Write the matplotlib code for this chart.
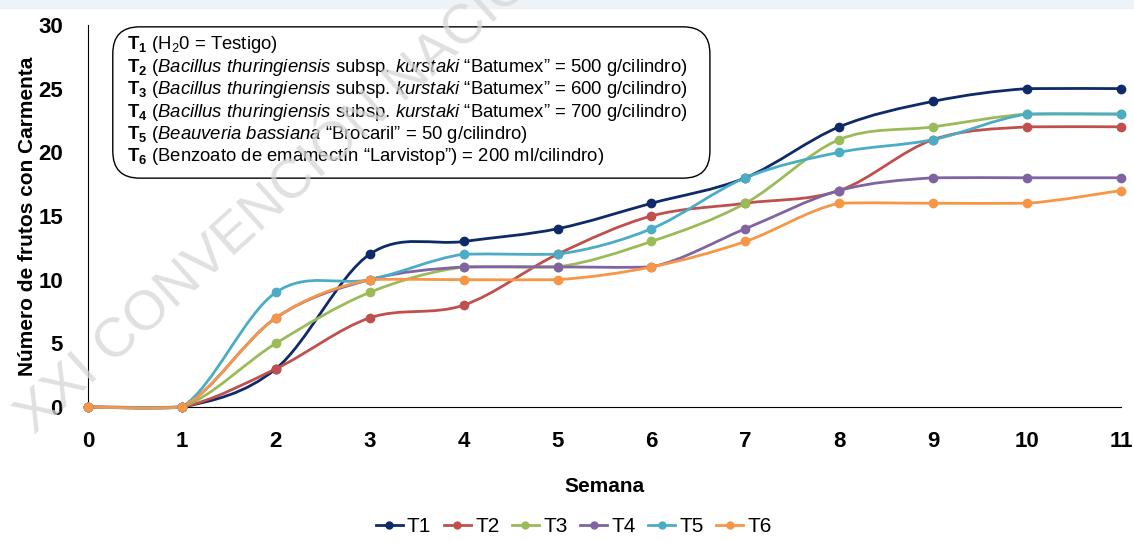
import numpy as np
import matplotlib.pyplot as plt
from matplotlib.path import Path
from matplotlib.patches import PathPatch, FancyBboxPatch
from matplotlib.lines import Line2D

plt.rcParams['font.family'] = ['Liberation Sans', 'DejaVu Sans']
plt.rcParams['mathtext.fontset'] = 'custom'
plt.rcParams['mathtext.rm'] = 'Liberation Sans'
plt.rcParams['mathtext.it'] = 'Liberation Sans:italic'
plt.rcParams['mathtext.bf'] = 'Liberation Sans:bold'

# semanas y datos
semanas = [0, 1, 2, 3, 4, 5, 6, 7, 8, 9, 10, 11]
t1 = [0, 0, 3, 12, 13, 14, 16, 18, 22, 24, 25, 25]
t2 = [0, 0, 3, 7, 8, 12, 15, 16, 17, 21, 22, 22]
t3 = [0, 0, 5, 9, 11, 11, 13, 16, 21, 22, 23, 23]
t4 = [0, 0, 7, 10, 11, 11, 11, 14, 17, 18, 18, 18]
t5 = [0, 0, 9, 10, 12, 12, 14, 18, 20, 21, 23, 23]
t6 = [0, 0, 7, 10, 10, 10, 11, 13, 16, 16, 16, 17]
nombres = ['T1', 'T2', 'T3', 'T4', 'T5', 'T6']
colores = ['#0e2a68', '#c0504d', '#9bbb59', '#8064a2', '#4bacc6', '#f79646']

tratamientos = [
    r"$\mathbf{T_1}$ (H$_2$0 = Testigo)",
    r"$\mathbf{T_2}$ ($\mathit{Bacillus\ thuringiensis}$ subsp. $\mathit{kurstaki}$ “Batumex” = 500 g/cilindro)",
    r"$\mathbf{T_3}$ ($\mathit{Bacillus\ thuringiensis}$ subsp. $\mathit{kurstaki}$ “Batumex” = 600 g/cilindro)",
    r"$\mathbf{T_4}$ ($\mathit{Bacillus\ thuringiensis}$ subsp. $\mathit{kurstaki}$ “Batumex” = 700 g/cilindro)",
    r"$\mathbf{T_5}$ ($\mathit{Beauveria\ bassiana}$ “Brocaril” = 50 g/cilindro)",
    r"$\mathbf{T_6}$ (Benzoato de emamectín “Larvistop”) = 200 ml/cilindro)",
]


def curva_suave(x, y):
    # linea suavizada tipo Excel (Catmull-Rom como curvas Bezier)
    p = np.column_stack([x, y]).astype(float)
    ext = np.vstack([p[0], p, p[-1]])
    verts = [p[0]]
    codes = [Path.MOVETO]
    for i in range(len(p) - 1):
        a, b, c, d = ext[i], ext[i + 1], ext[i + 2], ext[i + 3]
        k = 0.15 if b[1] == c[1] else 1.0  # tramos planos casi rectos
        c1 = b + (c - a) / 6 * [1, k]
        c2 = c - (d - b) / 6 * [1, k]
        verts += [c1, c2, c]
        codes += [Path.CURVE4] * 3
    return Path(verts, codes)


fig = plt.figure(figsize=(11.34, 5.42), dpi=100)
fig.patches.append(plt.Rectangle((0, 0.985), 1, 0.015, transform=fig.transFigure,
                                 color='#eef3f8', zorder=0))

ax = fig.add_axes([0.0776, 0.249, 0.911, 0.705])
ax.patch.set_alpha(0)

for serie, col in zip([t1, t2, t3, t4, t5, t6], colores):
    ax.add_patch(PathPatch(curva_suave(semanas, serie), fill=False, edgecolor=col,
                           lw=2, clip_on=False, zorder=3))
    ax.plot(semanas, serie, 'o', color=col, ms=6, clip_on=False, zorder=4)

ax.set_xlim(0, 11)
ax.set_ylim(0, 30)
ax.set_xticks(semanas)
ax.set_yticks([0, 5, 10, 15, 20, 25, 30])
ax.tick_params(length=0, labelsize=16, pad=17)
ax.tick_params(axis='y', pad=18)
for lab in ax.get_xticklabels() + ax.get_yticklabels():
    lab.set_fontweight('bold')
ax.spines['top'].set_visible(False)
ax.spines['right'].set_visible(False)
ax.set_xlabel('Semana', fontsize=15, fontweight='bold', labelpad=18)
ax.set_ylabel('Número de frutos con Carmenta', fontsize=15, fontweight='bold', labelpad=1)

caja = FancyBboxPatch((0.024, 0.599), 0.578, 0.396,
                      boxstyle='round,pad=0,rounding_size=0.026',
                      transform=ax.transAxes, fc='white', ec='black', lw=1, zorder=5,
                      mutation_aspect=2.7)
ax.add_patch(caja)
for i, t in enumerate(tratamientos):
    ax.text(0.038, 0.948 - i * 0.0587, t, transform=ax.transAxes, fontsize=13.3,
            va='center', ha='left', zorder=6, family='Liberation Sans')

# marca de agua
fig.text(0.022, 0.215, 'XXI CONVENCIÓN NACIONAL', rotation=42, fontsize=40,
         color='#d6d6d6', alpha=0.75, ha='left', va='center', rotation_mode='anchor',
         zorder=10, family=['Liberation Sans', 'DejaVu Sans'])

handles = [Line2D([], [], color=c, marker='o', ms=5, lw=2) for c in colores]
fig.legend(handles, nombres, loc='center', bbox_to_anchor=(0.506, 0.028), ncol=6,
           frameon=False, fontsize=15, handlelength=1.3, handletextpad=0.2,
           columnspacing=0.6)

fig.savefig('out.png', dpi=100)
